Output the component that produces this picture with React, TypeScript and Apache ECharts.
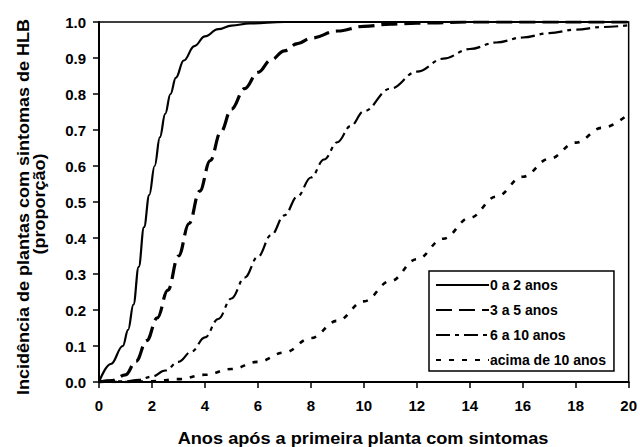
import React, { useEffect, useRef } from "react";
import * as echarts from "echarts";

const seriesNames = ["0 a 2 anos", "3 a 5 anos", "6 a 10 anos", "acima de 10 anos"];

const s1x = [0, 0.45, 0.9, 1.1, 1.3, 1.5, 1.7, 1.9, 2.1, 2.3, 2.5, 2.7, 2.9, 3.2, 3.6, 4.0, 4.5, 5.0, 5.7, 7, 20];
const s1y = [0, 0.05, 0.1, 0.145, 0.215, 0.32, 0.43, 0.52, 0.6, 0.68, 0.745, 0.8, 0.845, 0.893, 0.933, 0.96, 0.98, 0.99, 0.996, 1, 1];

const s2x = [0, 0.5, 1.0, 1.4, 1.8, 2.2, 2.6, 3.0, 3.4, 3.8, 4.2, 4.6, 5.0, 5.5, 6.0, 6.5, 7.0, 7.5, 8.0, 9.0, 10, 11, 12, 14, 20];
const s2y = [0, 0.004, 0.02, 0.058, 0.115, 0.178, 0.255, 0.35, 0.44, 0.53, 0.615, 0.695, 0.758, 0.815, 0.86, 0.895, 0.92, 0.94, 0.955, 0.975, 0.988, 0.994, 0.997, 1, 1];

const s3x = [0, 1, 1.5, 2, 2.5, 3, 3.5, 4, 4.5, 5, 5.5, 6, 6.5, 7, 7.5, 8, 8.5, 9, 9.5, 10, 11, 12, 13, 14, 15, 16, 17, 18, 19, 20];
const s3y = [0, 0.002, 0.006, 0.015, 0.032, 0.056, 0.085, 0.124, 0.175, 0.232, 0.29, 0.348, 0.408, 0.463, 0.516, 0.568, 0.618, 0.666, 0.711, 0.752, 0.815, 0.862, 0.898, 0.925, 0.943, 0.957, 0.969, 0.979, 0.986, 0.991];

const s4x = [0, 1, 2, 3, 4, 5, 6, 7, 8, 9, 10, 11, 12, 13, 14, 15, 16, 17, 18, 19, 20];
const s4y = [0, 0, 0.002, 0.008, 0.02, 0.036, 0.056, 0.082, 0.122, 0.17, 0.224, 0.28, 0.341, 0.398, 0.456, 0.515, 0.57, 0.62, 0.665, 0.706, 0.745];

const xTitle = "Anos após a primeira planta com sintomas";
const yTitle1 = "Incidência de plantas com sintomas de HLB";
const yTitle2 = "(proporção)";

const FONT = "'Liberation Sans', Arial, sans-serif";

function pairs(xs: number[], ys: number[]) {
  return xs.map((x, i) => [x, ys[i]]);
}

export default function App() {
  const ref = useRef<HTMLDivElement>(null);
  useEffect(() => {
    if (!ref.current) return;
    const chart = echarts.init(ref.current, undefined, { renderer: "svg" });
    const styles = [
      { width: 2.2, type: "solid" as any },
      { width: 3.2, type: [16, 7] },
      { width: 2.2, type: [14, 5, 4, 5] },
      { width: 2.6, type: [5, 8] },
    ];
    const datasets = [pairs(s1x, s1y), pairs(s2x, s2y), pairs(s3x, s3y), pairs(s4x, s4y)];
    chart.setOption({
      animation: false,
      backgroundColor: "#fff",
      grid: {
        left: 99,
        right: 9,
        top: 22,
        bottom: 65,
        show: true,
        borderColor: "#000",
        borderWidth: 1.5,
      },
      xAxis: {
        type: "value",
        min: 0,
        max: 20,
        interval: 2,
        axisLine: { show: true, lineStyle: { color: "#000", width: 2 } },
        axisTick: { show: true, length: 6, lineStyle: { color: "#000", width: 1.5 } },
        axisLabel: { margin: 16, color: "#000", fontFamily: FONT, fontWeight: "bold", fontSize: 15 },
        splitLine: { show: false },
      },
      yAxis: {
        type: "value",
        min: 0,
        max: 1,
        interval: 0.1,
        axisLine: { show: true, lineStyle: { color: "#000", width: 2 } },
        axisTick: { show: true, length: 6, lineStyle: { color: "#000", width: 1.5 } },
        axisLabel: {
          margin: 13,
          color: "#000",
          fontFamily: FONT,
          fontWeight: "bold",
          fontSize: 15,
          formatter: (v: number) => v.toFixed(1),
        },
        splitLine: { show: false },
      },
      legend: {
        orient: "vertical",
        left: 429,
        top: 271,
        padding: [7, 8, 4, 6],
        borderColor: "#000",
        borderWidth: 1.5,
        backgroundColor: "#fff",
        itemWidth: 53,
        itemHeight: 14,
        itemGap: 11,
        data: seriesNames,
        itemStyle: { opacity: 0 },
        textStyle: { color: "#000", fontFamily: FONT, fontWeight: "bold", fontSize: 14, padding: [0, 0, 0, -4] },
      },
      series: seriesNames.map((name, i) => ({
        name,
        type: "line",
        data: datasets[i],
        showSymbol: false,
        symbol: "none",
        smooth: 0.4,
        smoothMonotone: "x",
        lineStyle: { color: "#000", width: styles[i].width, type: styles[i].type },
        itemStyle: { color: "#000" },
        z: 3,
      })),
      graphic: [
        {
          type: "text",
          x: 363,
          y: 438,
          scaleX: 1.07,
          style: {
            text: xTitle,
            fill: "#000",
            font: `bold 17px ${FONT}`,
            textAlign: "center",
            textVerticalAlign: "middle",
          },
        },
        {
          type: "text",
          x: 23,
          y: 207,
          rotation: Math.PI / 2,
          scaleX: 1.06,
          style: {
            text: yTitle1,
            fill: "#000",
            font: `bold 17px ${FONT}`,
            textAlign: "center",
            textVerticalAlign: "middle",
          },
        },
        {
          type: "text",
          x: 39,
          y: 204,
          rotation: Math.PI / 2,
          scaleX: 1.06,
          style: {
            text: yTitle2,
            fill: "#000",
            font: `bold 17px ${FONT}`,
            textAlign: "center",
            textVerticalAlign: "middle",
          },
        },
      ],
    });
    return () => chart.dispose();
  }, []);
  return (
    <div
      ref={ref}
      style={{ position: "fixed", left: 0, top: 0, width: 640, height: 447, background: "#fff" }}
    />
  );
}
